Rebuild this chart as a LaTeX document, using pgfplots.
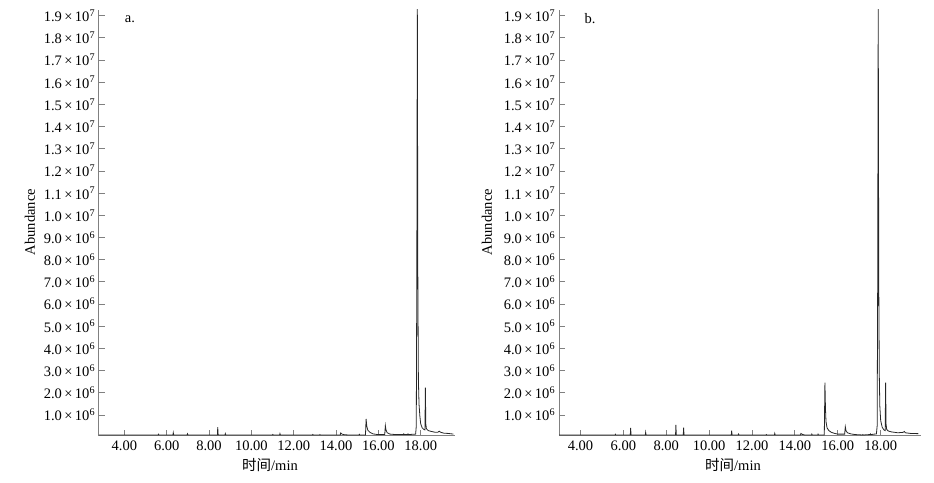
\documentclass[border=0pt]{standalone}
\usepackage{fontspec}
\setmainfont{Liberation Serif}
\newfontfamily\cjk{Noto Sans CJK SC}
\usepackage{pgfplots}
\pgfplotsset{compat=1.18}
\newcommand{\sci}[2]{#1\kern2.4pt×\kern2.4pt10\textsuperscript{\kern0.3pt#2}}

\pgfplotstableread{
t v
2.8 0.1
5.595 0.1
5.61 0.13
5.625 0.1
6.295 0.1
6.31 0.2
6.33 0.1
6.965 0.1
6.98 0.15
7.0 0.1
8.395 0.1
8.41 0.45
8.43 0.1
8.755 0.1
8.77 0.16
8.79 0.1
10.995 0.1
11.01 0.12
11.03 0.1
11.335 0.1
11.35 0.16
11.37 0.1
12.885 0.1
12.9 0.12
12.92 0.1
13.225 0.1
13.24 0.12
13.26 0.1
14.2 0.1
14.22 0.19
14.28 0.14
14.4 0.11
14.6 0.1
15.085 0.1
15.1 0.13
15.12 0.1
15.39 0.1
15.42 0.82
15.45 0.5
15.5 0.32
15.6 0.22
15.75 0.15
15.95 0.12
16.3 0.12
16.33 0.52
16.36 0.32
16.42 0.2
16.55 0.14
16.8 0.12
17.18 0.12
17.2 0.15
17.22 0.12
17.38 0.12
17.4 0.15
17.42 0.12
17.76 0.14
17.79 0.5
17.815 7
17.84 19.5
17.865 7
17.89 2.6
17.92 1.5
17.96 0.95
18.0 0.6
18.07 0.42
18.15 0.35
18.2 0.33
18.22 2.24
18.24 0.6
18.27 0.38
18.35 0.3
18.5 0.26
18.7 0.22
18.8 0.22
18.87 0.27
18.95 0.22
19.1 0.18
19.3 0.17
19.54 0.14
}\dataA

\pgfplotstableread{
t v
3.0 0.1
5.615 0.1
5.63 0.13
5.645 0.1
6.325 0.1
6.34 0.42
6.36 0.1
7.025 0.1
7.04 0.22
7.06 0.1
8.435 0.1
8.45 0.56
8.47 0.1
8.795 0.1
8.81 0.43
8.83 0.1
11.035 0.1
11.05 0.3
11.07 0.1
11.355 0.1
11.37 0.14
11.39 0.1
12.655 0.1
12.67 0.12
12.69 0.1
13.045 0.1
13.06 0.17
13.08 0.1
14.26 0.1
14.28 0.17
14.34 0.13
14.45 0.1
14.775 0.1
14.79 0.14
14.81 0.1
15.065 0.1
15.08 0.14
15.1 0.1
15.37 0.1
15.40 2.46
15.425 1.3
15.45 0.7
15.5 0.42
15.58 0.3
15.7 0.22
15.85 0.17
16.0 0.14
16.32 0.14
16.35 0.47
16.38 0.3
16.45 0.2
16.6 0.15
16.8 0.12
17.155 0.1
17.17 0.12
17.19 0.1
17.5 0.12
17.52 0.15
17.54 0.12
17.8 0.15
17.835 0.5
17.86 7
17.885 19.5
17.91 7
17.935 2.8
17.96 1.4
18.0 0.75
18.07 0.45
18.15 0.33
18.21 0.3
18.23 2.46
18.25 0.6
18.28 0.35
18.35 0.28
18.5 0.24
18.8 0.2
19.05 0.22
19.1 0.26
19.15 0.2
19.4 0.17
19.76 0.16
}\dataB

\pgfplotsset{chrom/.style={
  scale only axis,
  axis lines*=left,
  axis line style={draw=gray, line width=1pt},
  tick align=inside,
  major tick length=5.5pt,
  tick style={draw=gray, line width=0.9pt},
  xtick={4,6,...,18},
  xticklabels={4.00,6.00,8.00,10.00,12.00,14.00,16.00,18.00},
  ytick={1,2,...,19},
  yticklabels={\sci{1.0}{6},\sci{2.0}{6},\sci{3.0}{6},\sci{4.0}{6},\sci{5.0}{6},\sci{6.0}{6},\sci{7.0}{6},\sci{8.0}{6},\sci{9.0}{6},\sci{1.0}{7},\sci{1.1}{7},\sci{1.2}{7},\sci{1.3}{7},\sci{1.4}{7},\sci{1.5}{7},\sci{1.6}{7},\sci{1.7}{7},\sci{1.8}{7},\sci{1.9}{7}},
  yticklabel style={inner sep=0pt, xshift=-3.5pt},
  xticklabel style={inner sep=0pt, yshift=-5pt},
  ymin=0.068, ymax=19.26,
  height=425.7pt,
  anchor=south west,
}}

\begin{document}
\begin{tikzpicture}[font=\fontsize{14.5}{17}\selectfont]
\useasboundingbox (0,0) rectangle (934pt,482pt);
\begin{axis}[chrom, at={(99pt,46.3pt)}, width=356pt, xmin=2.8, xmax=19.62]
\addplot[black!85, line width=0.8pt] table[x=t, y=v] {\dataA};
\end{axis}
\begin{axis}[chrom, at={(559pt,46.3pt)}, width=362pt, xmin=3.0, xmax=19.88]
\addplot[black!85, line width=0.8pt] table[x=t, y=v] {\dataB};
\end{axis}
\node at (130pt,463pt) {a.};
\node at (590pt,463pt) {b.};
\node[rotate=90] at (30pt,260pt) {Abundance};
\node[rotate=90] at (487pt,260pt) {Abundance};
\node at (270pt,17pt) {{\cjk 时间}/min};
\node at (733pt,17pt) {{\cjk 时间}/min};
\end{tikzpicture}
\end{document}
